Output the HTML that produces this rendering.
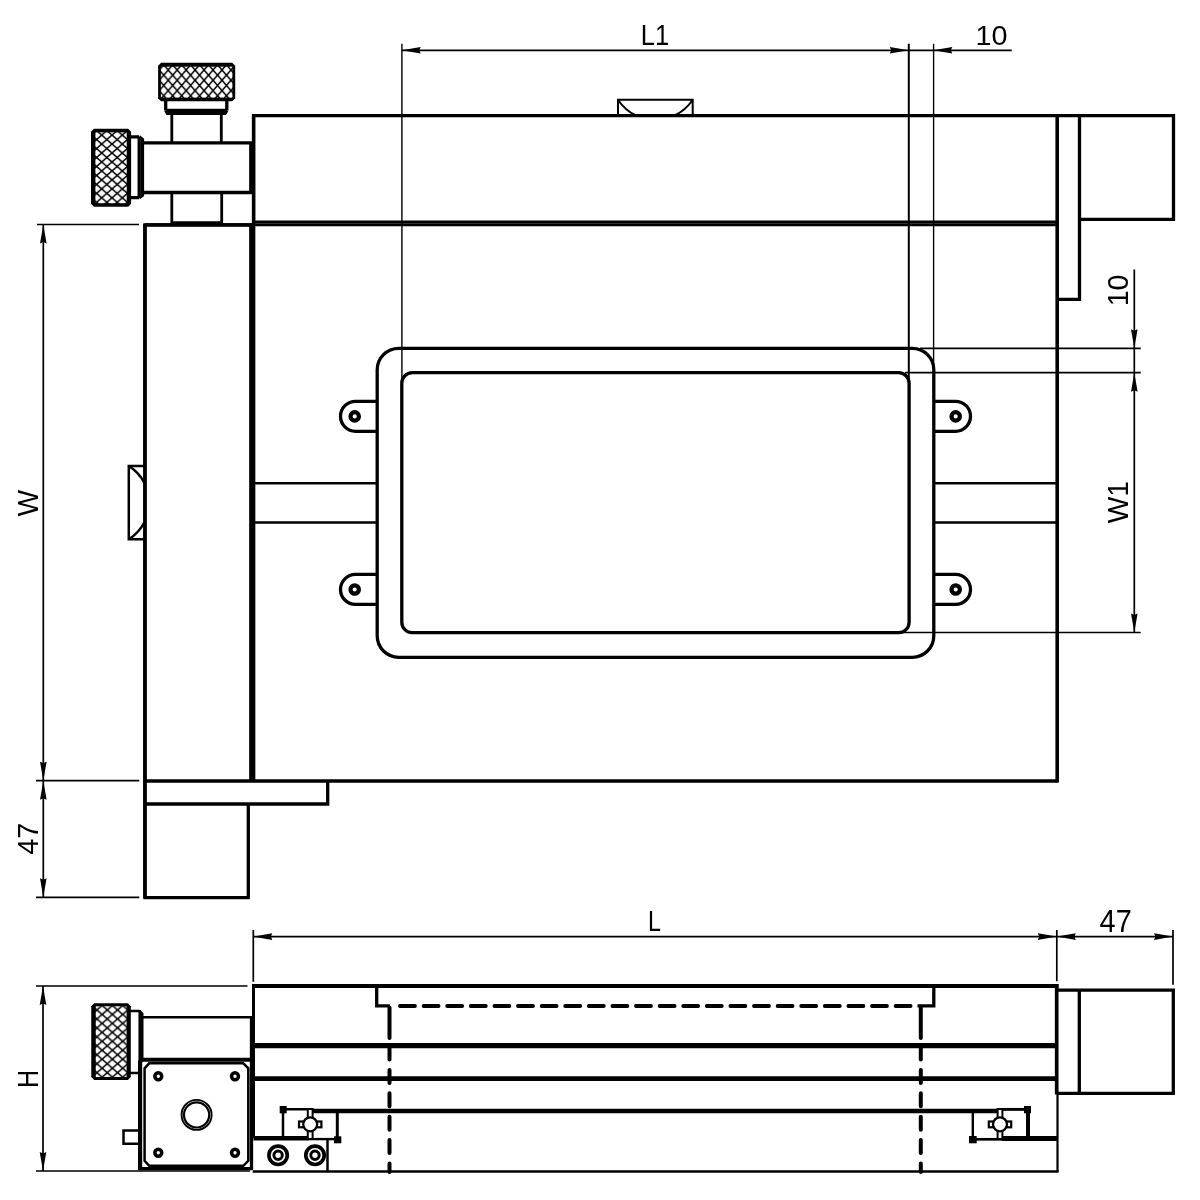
<!DOCTYPE html>
<html><head><meta charset="utf-8"><title>Stage drawing</title>
<style>
html,body{margin:0;padding:0;background:#fff;}
body{width:1200px;height:1200px;overflow:hidden;font-family:"Liberation Sans",sans-serif;}
svg{display:block;will-change:transform}
text{font-family:"Liberation Sans",sans-serif;font-size:29px;fill:#000;}
.k{fill:none;stroke:#000;stroke-width:3.3;stroke-linejoin:miter;}
.m{fill:none;stroke:#000;stroke-width:2.5;}
.n{fill:none;stroke:#000;stroke-width:2;}
.d{fill:none;stroke:#000;stroke-width:1.7;}
.w{fill:#fff;stroke:#000;stroke-width:3;}
</style></head><body>
<svg width="1200" height="1200" viewBox="0 0 1200 1200">
<defs>
<pattern id="hx" patternUnits="userSpaceOnUse" x="159.27" y="70" width="8.96" height="10.3">
<rect width="8.96" height="10.3" fill="#fff"/>
<path d="M0,0 L8.96,10.3 M8.96,0 L0,10.3" stroke="#000" stroke-width="1.5" fill="none"/>
</pattern>
<pattern id="hy" patternUnits="userSpaceOnUse" x="101.7" y="135.1" width="10.3" height="8.96">
<rect width="10.3" height="8.96" fill="#fff"/>
<path d="M0,0 L10.3,8.96 M10.3,0 L0,8.96" stroke="#000" stroke-width="1.5" fill="none"/>
</pattern>
<pattern id="hz" patternUnits="userSpaceOnUse" x="102.1" y="1005.5" width="10.3" height="8.96">
<rect width="10.3" height="8.96" fill="#fff"/>
<path d="M0,0 L10.3,8.96 M10.3,0 L0,8.96" stroke="#000" stroke-width="1.5" fill="none"/>
</pattern>
</defs>
<rect width="1200" height="1200" fill="#fff"/>

<g id="topview">
<path class="k" d="M253.5,224 V115.7 H1173.5 V219.3 H1079.5"/>
<path class="k" d="M1057.5,781 H145 V225 H252"/>
<path d="M1057.2,115.7 V782.5" fill="none" stroke="#000" stroke-width="3.6"/>
<path d="M144.9,224 V898" fill="none" stroke="#000" stroke-width="3.5"/>
<path class="k" d="M1079.5,115.7 V299.3 H1057.5"/>
<path d="M253.5,221.8 H1057.5" fill="none" stroke="#000" stroke-width="2.8"/>
<path d="M145,224.7 H1057.5" fill="none" stroke="#000" stroke-width="2.9"/>
<path class="k" d="M250.8,142.9 V192.5 M250.8,224 V781 M253.7,115.7 V781"/>
<path class="k" d="M145,781 V897.7 H248.3 V804 M145,804 H327.7 V781"/>
<path d="M254,483.3 H377.5 M254,522.5 H377.5 M934,483.3 H1057.5 M934,522.5 H1057.5" fill="none" stroke="#000" stroke-width="2.4"/>
<rect class="k" x="377.2" y="348.3" width="556.6" height="309" rx="21.5" ry="21.5"/>
<rect class="k" x="401.8" y="372.7" width="507.3" height="260" rx="10.5" ry="10.5"/>
<path class="k" d="M377.5,401.3 H355.5 A15,15 0 0 0 355.5,431.3 H377.5"/>
<circle cx="354.7" cy="416.40000000000003" r="4.2" fill="none" stroke="#000" stroke-width="4.2"/>
<path class="k" d="M934,401.3 H955.5 A15,15 0 0 1 955.5,431.3 H934"/>
<circle cx="955.7" cy="416.40000000000003" r="4.2" fill="none" stroke="#000" stroke-width="4.2"/>
<path class="k" d="M377.5,574.4 H355.5 A15,15 0 0 0 355.5,604.4 H377.5"/>
<circle cx="354.7" cy="589.5" r="4.2" fill="none" stroke="#000" stroke-width="4.2"/>
<path class="k" d="M934,574.4 H955.5 A15,15 0 0 1 955.5,604.4 H934"/>
<circle cx="955.7" cy="589.5" r="4.2" fill="none" stroke="#000" stroke-width="4.2"/>
<path class="n" d="M618,115 V99.7 H692.7 V115 M618,99.7 A44.6,44.6 0 0 0 636,115.5 M692.7,99.7 A44.6,44.6 0 0 1 674.5,115.5"/>
<path class="m" d="M144.5,466 H128.8 V539.3 H144.5"/>
<path d="M128.8,466 A43.2,43.2 0 0 1 144.5,483.25 M128.8,539.3 A43.2,43.2 0 0 0 144.5,522.05" fill="none" stroke="#000" stroke-width="2.4"/>
<path d="M171.8,114.6 V142.9 M221.3,114.6 V142.9 M171.8,192.5 V222.7 H221.7 V192.5" fill="none" stroke="#000" stroke-width="2.8"/>
<path class="k" d="M143.3,142.9 H252 M143.3,192.5 H252"/>
<path d="M161.1,62.7 H232.2 L235.2,65.7 V98.3 L232.2,101.3 H161.1 L158.1,98.3 V65.7 Z" fill="#000"/><rect x="160.9" y="66.7" width="71.49999999999999" height="30.89999999999999" fill="url(#hx)"/>
<path class="k" d="M165.7,101 V110.4 M226.8,101 V110.4 M165.7,110.4 H226.8"/>
<path d="M165.7,110.4 L167.5,113.4 H225 L226.8,110.4" fill="none" stroke="#000" stroke-width="3.4"/>
<path d="M94,128.75 H128.1 L131.1,131.75 V203.8 L128.1,206.8 H94 L91,203.8 V131.75 Z" fill="#000"/><rect x="95.4" y="132.35" width="31.29999999999999" height="70.85000000000002" fill="url(#hy)"/>
<path class="k" d="M131,136.9 H139.2 M131,197.7 H139.2 M139.2,136.9 V197.7"/>
<path d="M139.2,136.9 L142.4,139.5 V195.1 L139.2,197.7" fill="none" stroke="#000" stroke-width="3.4"/>
</g>
<g id="dims1">
<path d="M401.9,43.7 V382 M933.6,43.7 V367" fill="none" stroke="#000" stroke-width="1.4"/>
<path d="M908.8,43.7 V380" fill="none" stroke="#000" stroke-width="2"/>
<path class="d" d="M401.7,50.3 H1011.7"/>
<path transform="translate(401.7,50.3) rotate(180)" d="M0,0 L-19,-3.3 L-17.6,0 L-19,3.3 Z" fill="#000"/>
<path transform="translate(908.8,50.3) rotate(0)" d="M0,0 L-19,-3.3 L-17.6,0 L-19,3.3 Z" fill="#000"/>
<path transform="translate(933.3,50.3) rotate(180)" d="M0,0 L-19,-3.3 L-17.6,0 L-19,3.3 Z" fill="#000"/>
<text transform="translate(640.86,45.00) scale(0.880,0.990)" font-size="29.0">L1</text>
<text transform="translate(975.45,44.71) scale(0.993,0.983)" font-size="29.0">10</text>
<path class="d" d="M37,224.5 H139 M36,780.7 H139.3 M36,897.3 H139.3 M43.3,224.5 V897.3"/>
<path transform="translate(43.3,224.5) rotate(-90)" d="M0,0 L-19,-3.3 L-17.6,0 L-19,3.3 Z" fill="#000"/>
<path transform="translate(43.3,780.7) rotate(90)" d="M0,0 L-19,-3.3 L-17.6,0 L-19,3.3 Z" fill="#000"/>
<path transform="translate(43.3,780.7) rotate(-90)" d="M0,0 L-19,-3.3 L-17.6,0 L-19,3.3 Z" fill="#000"/>
<path transform="translate(43.3,897.3) rotate(90)" d="M0,0 L-19,-3.3 L-17.6,0 L-19,3.3 Z" fill="#000"/>
<text transform="translate(38.00,516.18) rotate(-90) scale(0.960,1.012)" font-size="29.0">W</text>
<text transform="translate(38.19,854.68) rotate(-90) scale(0.991,1.014)" font-size="29.0">47</text>
<path class="d" d="M920,348.3 H1140.7 M905,372.7 H1140.7 M894,632.5 H1140.7 M1134.3,269.5 V632.5"/>
<path transform="translate(1134.3,348.3) rotate(90)" d="M0,0 L-19,-3.3 L-17.6,0 L-19,3.3 Z" fill="#000"/>
<path transform="translate(1134.3,372.7) rotate(-90)" d="M0,0 L-19,-3.3 L-17.6,0 L-19,3.3 Z" fill="#000"/>
<path transform="translate(1134.3,632.5) rotate(90)" d="M0,0 L-19,-3.3 L-17.6,0 L-19,3.3 Z" fill="#000"/>
<text transform="translate(1127.96,306.27) rotate(-90) scale(0.979,0.988)" font-size="29.0">10</text>
<text transform="translate(1128.25,523.28) rotate(-90) scale(0.972,1.017)" font-size="29.0">W1</text>
</g>
<g id="botview">
<path class="d" d="M253.3,930 V981.7 M1056.8,930 V981.3 M1173,930 V984.8 M253.3,936.6 H1173"/>
<path transform="translate(253.3,936.6) rotate(180)" d="M0,0 L-19,-3.3 L-17.6,0 L-19,3.3 Z" fill="#000"/>
<path transform="translate(1056.8,936.6) rotate(0)" d="M0,0 L-19,-3.3 L-17.6,0 L-19,3.3 Z" fill="#000"/>
<path transform="translate(1056.8,936.6) rotate(180)" d="M0,0 L-19,-3.3 L-17.6,0 L-19,3.3 Z" fill="#000"/>
<path transform="translate(1173,936.6) rotate(0)" d="M0,0 L-19,-3.3 L-17.6,0 L-19,3.3 Z" fill="#000"/>
<text transform="translate(648.04,931.25) scale(0.803,1.012)" font-size="29.0">L</text>
<text transform="translate(1099.57,932.31) scale(0.998,1.052)" font-size="29.0">47</text>
<path class="d" d="M36,986 H247.5 M36,1171 H250 M43,986 V1171"/>
<path transform="translate(43,986) rotate(-90)" d="M0,0 L-19,-3.3 L-17.6,0 L-19,3.3 Z" fill="#000"/>
<path transform="translate(43,1171) rotate(90)" d="M0,0 L-19,-3.3 L-17.6,0 L-19,3.3 Z" fill="#000"/>
<text transform="translate(38.10,1088.01) rotate(-90) scale(0.868,1.017)" font-size="29.0">H</text>
<path d="M253.5,986 H1058.5" fill="none" stroke="#000" stroke-width="4"/>
<path d="M253.5,984 V1138" fill="none" stroke="#000" stroke-width="3"/>
<path d="M1056.7,984 V1094.5" fill="none" stroke="#000" stroke-width="3.7"/>
<path class="d" style="stroke-width:2.2" d="M1057.5,1094 V1172"/>
<path d="M254,1045.6 H1056" fill="none" stroke="#000" stroke-width="5.2"/>
<path d="M254,1078.7 H1056" fill="none" stroke="#000" stroke-width="4.8"/>
<path d="M312.7,1111 H997.7" fill="none" stroke="#000" stroke-width="4.7"/>
<path d="M252.7,1171.5 H1058.5" fill="none" stroke="#000" stroke-width="2.4"/>
<path class="k" d="M376.7,986 V1005.8 H390 M933.8,986 V1005.8 H917.5"/>
<path d="M400,1006 H915" fill="none" stroke="#000" stroke-width="3.8" stroke-linecap="round" stroke-dasharray="15 8.6"/>
<path d="M389.5,1007.5 V1038 M920.8,1007.5 V1038" fill="none" stroke="#000" stroke-width="4" stroke-linecap="round"/>
<path d="M389.5,1046.5 V1172 M920.8,1046.5 V1172" fill="none" stroke="#000" stroke-width="4" stroke-linecap="round" stroke-dasharray="13 10.4"/>
<path class="k" d="M1057.5,990.2 H1173.3 V1093.3 H1057.5 M1079.3,990.2 V1093.3"/>
<path d="M283,1109.5 V1138 M283,1109.3 H308" fill="none" stroke="#000" stroke-width="2.5"/>
<path d="M337.3,1111 V1140" fill="none" stroke="#000" stroke-width="3"/>
<rect x="279.7" y="1106" width="7" height="7.3" fill="#000"/>
<rect x="334" y="1136.3" width="7.3" height="7" fill="#000"/>
<path d="M253.5,1138.2 H309" fill="none" stroke="#000" stroke-width="4.4"/>
<path d="M309,1139.1 H335" fill="none" stroke="#000" stroke-width="2.4"/>
<rect x="307.8" y="1109" width="4.8" height="30" fill="#fff" stroke="#000" stroke-width="2"/><rect x="299.0" y="1121.5" width="22.4" height="5.8" fill="#fff" stroke="#000" stroke-width="2.2"/><circle cx="310.2" cy="1124.3" r="7" fill="#fff" stroke="#000" stroke-width="2.3"/>
<path class="m" d="M327.5,1139 V1171.5"/>
<circle cx="278.1" cy="1155.3" r="9.2" fill="none" stroke="#000" stroke-width="3.7"/>
<circle cx="278.1" cy="1155.3" r="4.2" fill="none" stroke="#000" stroke-width="3"/>
<circle cx="315" cy="1155.3" r="9.2" fill="none" stroke="#000" stroke-width="3.7"/>
<circle cx="315" cy="1155.3" r="4.2" fill="none" stroke="#000" stroke-width="3"/>
<path d="M972.8,1111 V1139" fill="none" stroke="#000" stroke-width="2.4"/>
<path d="M1028,1108 V1139" fill="none" stroke="#000" stroke-width="4"/>
<path d="M1002,1109.4 H1026" fill="none" stroke="#000" stroke-width="2.9"/>
<rect x="1024" y="1106" width="7" height="7.3" fill="#000"/>
<rect x="969" y="1136" width="7.7" height="7.3" fill="#000"/>
<path d="M975,1139.3 H1002" fill="none" stroke="#000" stroke-width="2.7"/>
<path d="M1002,1138.5 H1057" fill="none" stroke="#000" stroke-width="5"/>
<rect x="997.6" y="1109" width="4.8" height="30" fill="#fff" stroke="#000" stroke-width="2"/><rect x="988.8" y="1121.5" width="22.4" height="5.8" fill="#fff" stroke="#000" stroke-width="2.2"/><circle cx="1000" cy="1124.3" r="7" fill="#fff" stroke="#000" stroke-width="2.3"/>
<path d="M94.25,1003.3 H127.80000000000001 L130.8,1006.3 V1077 L127.80000000000001,1080 H94.25 L91.25,1077 V1006.3 Z" fill="#000"/><rect x="95.75" y="1006.3" width="30.85000000000001" height="70.70000000000005" fill="url(#hz)"/>
<path d="M130,1011 H139.7 M130,1073 H139.7 M139.7,1010 V1074" fill="none" stroke="#000" stroke-width="2.5"/>
<path d="M139.7,1011 L142.2,1013.8 V1060" fill="none" stroke="#000" stroke-width="2.6"/>
<path d="M142.2,1017.3 H251.5" fill="none" stroke="#000" stroke-width="2.5"/>
<path class="k" d="M251.5,1016.1 V1170"/>
<path d="M140.2,1062.5 Q140.2,1059.8 143,1059.8 H251" fill="none" stroke="#000" stroke-width="4"/>
<path d="M140.1,1061 V1170" fill="none" stroke="#000" stroke-width="4.2"/>
<path d="M138,1168.6 H252" fill="none" stroke="#000" stroke-width="3.4"/>
<path class="m" d="M149.2,1063.3 H243.3 L248.3,1068.3 V1160.8 L243.3,1165.8 H149.2 L144.6,1160.8 V1068.3 Z"/>
<circle cx="158.3" cy="1076.3" r="3.45" fill="none" stroke="#000" stroke-width="3.5"/>
<circle cx="158.3" cy="1152.8" r="3.45" fill="none" stroke="#000" stroke-width="3.5"/>
<circle cx="235" cy="1076.3" r="3.45" fill="none" stroke="#000" stroke-width="3.5"/>
<circle cx="235" cy="1152.8" r="3.45" fill="none" stroke="#000" stroke-width="3.5"/>
<circle cx="196.6" cy="1114.9" r="15" fill="none" stroke="#000" stroke-width="1.9"/>
<circle cx="196.6" cy="1114.9" r="12.6" fill="none" stroke="#000" stroke-width="2.2"/>
<path class="m" d="M138.5,1130.5 H123.5 V1143.7 H138.5"/>
</g>
</svg></body></html>
